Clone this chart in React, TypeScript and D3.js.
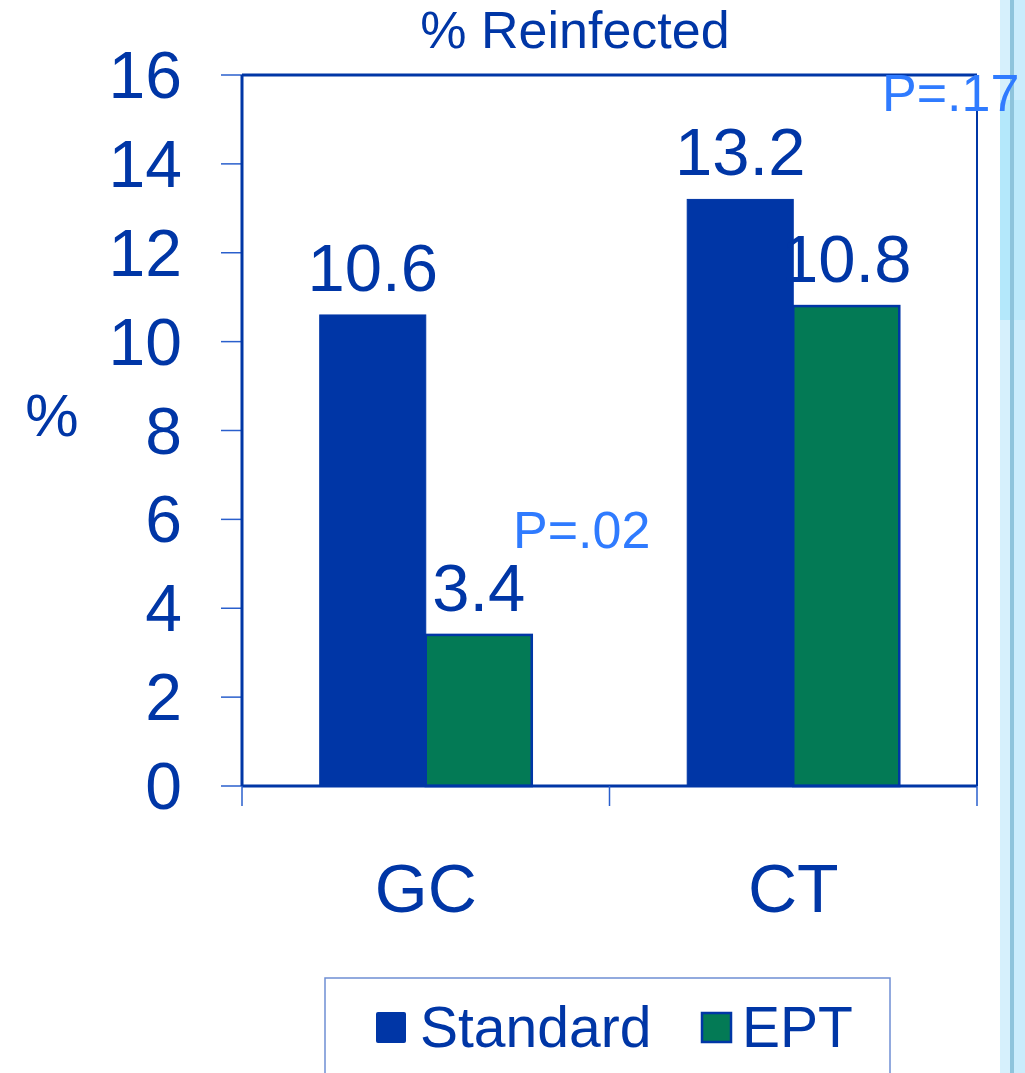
import React from "react";
import * as d3 from "d3";

const categories = ["GC", "CT"];
const seriesNames = ["Standard", "EPT"];
const standardValues = [10.6, 13.2];
const eptValues = [3.4, 10.8];
const valueLabels = [["10.6", "3.4"], ["13.2", "10.8"]];
const yTicks = [0, 2, 4, 6, 8, 10, 12, 14, 16];
const pLabels = ["P=.02", "P=.17"];
const pValuesY = [5.35, 15.2];

const W = 1025;
const H = 1073;
const DARK = "#0036a6";
const GREEN = "#037a55";
const PBLUE = "#2f7bff";
const FONT = "Liberation Sans, Arial, sans-serif";

export default function App() {
  const plot = { left: 242, right: 977, top: 75, bottom: 786 };
  const x = d3.scaleBand<string>().domain(categories).range([plot.left, plot.right]).paddingInner(0).paddingOuter(0);
  const sub = d3.scaleBand<string>().domain(seriesNames).range([0, x.bandwidth()]).paddingOuter(0.733).paddingInner(0);
  const y = d3.scaleLinear().domain([0, 16]).range([plot.bottom, plot.top]);
  const colors = [DARK, GREEN];
  const seriesVals = [standardValues, eptValues];

  return (
    <svg width={W} height={H} style={{ position: "absolute", left: 0, top: 0, background: "#fff" }} fontFamily={FONT}>
      {/* decorative right strip */}
      <rect x={1000} y={0} width={25} height={H} fill="#d6f0fc" />
      <rect x={1000} y={100} width={25} height={220} fill="#b4e8fb" />
      <rect x={1010} y={0} width={4} height={H} fill="#8ec4dc" />
      <rect x={1014} y={0} width={11} height={H} fill="#c2eafc" opacity={0.6} />

      {/* title */}
      <text x={575} y={48} textAnchor="middle" fontSize={52} fill={DARK}>% Reinfected</text>

      {/* y label */}
      <text x={52} y={415} textAnchor="middle" dominantBaseline="central" fontSize={60} fill={DARK}>%</text>

      {/* y ticks */}
      {yTicks.map((t) => (
        <g key={t}>
          <line x1={221} x2={plot.left} y1={y(t)} y2={y(t)} stroke="#2a5fcc" strokeWidth={1.5} />
          <text x={182} y={y(t)} textAnchor="end" dominantBaseline="central" fontSize={66} fill={DARK}>{t}</text>
        </g>
      ))}

      {/* bars */}
      {categories.map((c, ci) =>
        seriesNames.map((s, si) => {
          const v = seriesVals[si][ci];
          const bx = (x(c) as number) + (sub(s) as number);
          return (
            <g key={c + s}>
              <rect
                x={bx}
                y={y(v)}
                width={sub.bandwidth()}
                height={y(0) - y(v)}
                fill={colors[si]}
                stroke={DARK}
                strokeWidth={si === 1 ? 2.5 : 1}
              />
              <text x={bx + sub.bandwidth() / 2} y={y(v) - 24} textAnchor="middle" fontSize={67} fill={DARK}>
                {valueLabels[ci][si]}
              </text>
            </g>
          );
        })
      )}

      {/* frame */}
      <line x1={plot.left} x2={plot.left} y1={plot.top} y2={plot.bottom} stroke={DARK} strokeWidth={3} />
      <line x1={plot.left} x2={plot.right} y1={plot.top} y2={plot.top} stroke={DARK} strokeWidth={3} />
      <line x1={plot.right} x2={plot.right} y1={plot.top} y2={plot.bottom} stroke={DARK} strokeWidth={2} />
      <line x1={plot.left} x2={plot.right} y1={plot.bottom} y2={plot.bottom} stroke={DARK} strokeWidth={3} />

      {/* x ticks */}
      {[...categories.map((c) => x(c) as number), plot.right].map((tx, i) => (
        <line key={i} x1={tx} x2={tx} y1={plot.bottom} y2={806} stroke="#2a5fcc" strokeWidth={1.5} />
      ))}
      {categories.map((c) => (
        <text key={c} x={(x(c) as number) + x.bandwidth() / 2} y={912} textAnchor="middle" fontSize={68} fill={DARK}>{c}</text>
      ))}

      {/* p-values */}
      <text x={513} y={y(pValuesY[0])} fontSize={52} fill={PBLUE}>{pLabels[0]}</text>
      <text x={882} y={y(pValuesY[1])} fontSize={52} fill={PBLUE}>{pLabels[1]}</text>

      {/* legend */}
      <rect x={325} y={978} width={565} height={120} fill="#fff" stroke="#6f8fd4" strokeWidth={1.5} />
      <rect x={376} y={1012} width={30} height={31} fill={DARK} rx={2} />
      <text x={420} y={1047} fontSize={57} fill={DARK}>{seriesNames[0]}</text>
      <rect x={702} y={1013} width={29} height={29} fill={GREEN} stroke={DARK} strokeWidth={2.5} />
      <text x={742} y={1047} fontSize={57} fill={DARK}>{seriesNames[1]}</text>
    </svg>
  );
}
